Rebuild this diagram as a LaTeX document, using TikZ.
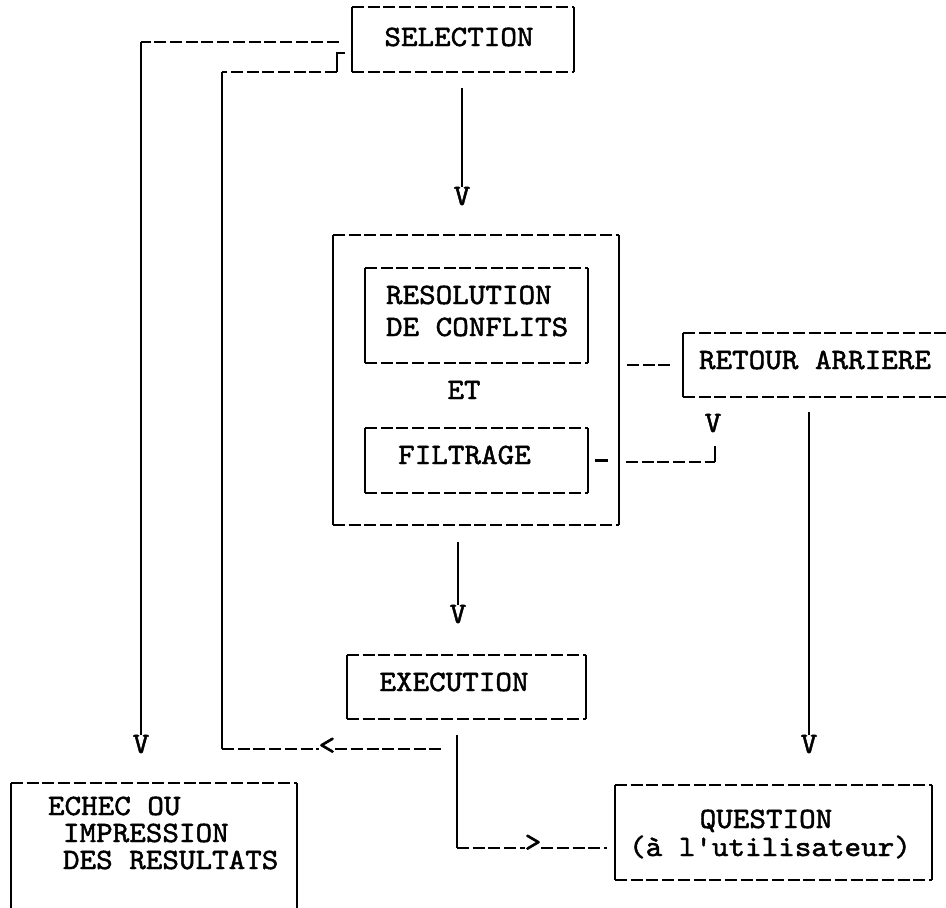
\documentclass[tikz,border=0pt]{standalone}
\usepackage{fontspec}
\setmonofont{lmmono10-regular.otf}[FakeStretch=1.07, FakeBold=1.6]
\begin{document}
\begin{tikzpicture}[x=1pt,y=-1pt,
  hl/.style={line width=2.5pt, dash pattern=on 12pt off 3.7pt},
  vl/.style={line width=2.5pt},
  boxn/.style={draw=none, inner sep=0pt, outer sep=0pt},
  txt/.style={font=\ttfamily\fontsize{29.5}{31}\selectfont, inner sep=0pt, outer sep=0pt, anchor=base},
  ltxt/.style={txt, anchor=base west}]
\useasboundingbox[fill=white] (0,0) rectangle (946,908);
\newcommand\tbedges[1]{%
  \draw[hl] (#1.north west) -- (#1.north east);
  \draw[hl] (#1.south west) -- (#1.south east);
  \draw[vl] (#1.north west) -- (#1.south west);
  \draw[vl] (#1.north east) -- (#1.south east);}
% boxes
\node[boxn, minimum width=222pt, minimum height=65pt] (sel) at (463,39.5) {};
\node[boxn, minimum width=286pt, minimum height=290pt] (big) at (476,380) {};
\node[boxn, minimum width=223pt, minimum height=95pt] (reso) at (476.5,315.5) {};
\node[boxn, minimum width=223pt, minimum height=65pt] (filt) at (476.5,460.5) {};
\node[boxn, minimum width=263pt, minimum height=64pt] (ret) at (814.5,365) {};
\node[boxn, minimum width=239pt, minimum height=64pt] (exec) at (466.5,687) {};
\node[boxn, minimum width=317pt, minimum height=95pt] (ques) at (773.5,832.5) {};
\node[boxn, minimum width=286pt, minimum height=125pt] (echec) at (154,845.5) {};
\tbedges{sel}
\tbedges{big}
\tbedges{reso}
\tbedges{filt}
\tbedges{exec}
\tbedges{ques}
\draw[hl] (ret.north west) -- (ret.north east);
\draw[hl] (ret.south west) -- (ret.south east);
\draw[vl] (ret.north west) -- (ret.south west);
\draw[hl] (echec.north west) -- (echec.north east);
\draw[vl] (echec.north west) -- (echec.south west);
\draw[vl] (echec.north east) -- (echec.south east);
% texts
\node[txt] (selT) at (459,46) {SELECTION};
\node[ltxt] (reso1) at (386,304) {RESOLUTION};
\node[ltxt] (reso2) at (386,336) {DE CONFLITS};
\node[txt] (etT) at (464,399) {ET};
\node[txt] (filtT) at (464.5,464) {FILTRAGE};
\node[txt] (retT) at (815,369) {RETOUR ARRIERE};
\node[txt] (execT) at (454,691) {EXECUTION};
\node[txt] (ques1) at (766,828) {QUESTION};
\node[txt] (ques2) at (770,856) {(à l'utilisateur)};
\node[ltxt] (ech1) at (48,815) {ECHEC OU};
\node[ltxt] (ech2) at (63,842) {IMPRESSION};
\node[ltxt] (ech3) at (63,869) {DES RESULTATS};
% arrow glyphs
\node[txt] (vA) at (462,205) {V};
\node[txt] (vB) at (458,623) {V};
\node[txt] (vL) at (141,753) {V};
\node[txt] (vR) at (809,753) {V};
\node[txt] (vF) at (713,432) {V};
\node[txt, anchor=center] (ltN) at (327,746) {<};
\node[txt, anchor=center] (gtN) at (533,843) {>};
% coordinates
\coordinate (l1) at (141,42);
\coordinate (h1) at (345,53);
\coordinate (h2) at (337,53);
\coordinate (h3) at (337,72);
\coordinate (h4) at (222,72);
\coordinate (h5) at (222,749);
\coordinate (h6) at (445,749);
\coordinate (fk) at (715,462);
\coordinate (e1) at (457,848);
% connectors
\draw[vl, shorten <=16pt] (vA.north |- sel.south) -- (vA.north);
\draw[vl, shorten <=17pt] (vB.north |- big.south) -- (vB.north);
\draw[hl, shorten <=8pt, shorten >=11pt] (big.east |- ret.west) -- (ret.west);
\draw[hl, dash pattern=on 13pt off 3pt] ([xshift=7pt]filt.east) -- ([xshift=20pt]filt.east);
\draw[hl] ([xshift=38pt]filt.east |- fk) -- (fk);
\draw[vl] (fk) -- ++(0,-16);
\draw[vl, shorten <=15pt] (vR.north |- ret.south) -- (vR.north);
\draw[hl] ([shift={(-13,2.5)}]sel.west) -- (l1);
\draw[vl] (l1) -- (l1 |- vL.north);
\draw[vl] (h1) -- (h2) -- (h3);
\draw[hl] (h3) -- (h4);
\draw[vl] (h4) -- (h5);
\draw[hl] (h5) -- (ltN.west |- h5);
\draw[hl] (ltN.east |- h5) -- (h6);
\draw[vl, shorten <=16pt] (e1 |- exec.south) -- (e1);
\draw[hl] (e1) -- (gtN.west |- e1);
\draw[hl, shorten >=8pt] (gtN.east |- e1) -- (ques.west |- e1);
\end{tikzpicture}
\end{document}
